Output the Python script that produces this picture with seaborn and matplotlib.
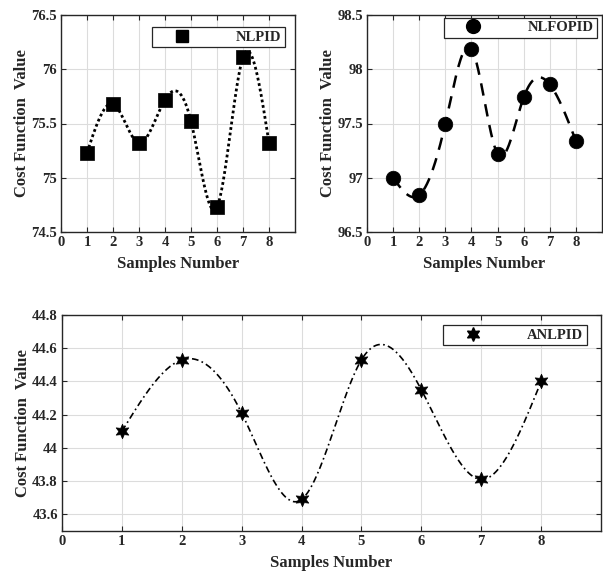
import numpy as np
import pandas as pd
import matplotlib
matplotlib.use("Agg")
import matplotlib.pyplot as plt
from matplotlib.lines import Line2D
import seaborn as sns

# ---------------- data ----------------
samples = [1, 2, 3, 4, 5, 6, 7, 8]
nlpid = [75.23, 75.68, 75.32, 75.72, 75.52, 74.73, 76.11, 75.32]
nlfopid = [97.00, 96.84, 97.50, 98.19, 97.22, 97.74, 97.86, 97.34]
anlpid = [44.10, 44.53, 44.21, 43.69, 44.53, 44.35, 43.81, 44.40]
x_ticks = [0, 1, 2, 3, 4, 5, 6, 7, 8]
y_ticks_nlpid = [74.5, 75, 75.5, 76, 76.5]
y_ticks_nlfopid = [96.5, 97, 97.5, 98, 98.5]
y_ticks_anlpid = [43.6, 43.8, 44.0, 44.2, 44.4, 44.6, 44.8]


def spline(x, y, xs):
    """Natural cubic spline through the data points."""
    x = np.asarray(x, float)
    y = np.asarray(y, float)
    n = len(x)
    h = np.diff(x)
    A = np.zeros((n, n))
    b = np.zeros(n)
    A[0, 0] = 1.0
    A[-1, -1] = 1.0
    for i in range(1, n - 1):
        A[i, i - 1] = h[i - 1]
        A[i, i] = 2 * (h[i - 1] + h[i])
        A[i, i + 1] = h[i]
        b[i] = 6 * ((y[i + 1] - y[i]) / h[i] - (y[i] - y[i - 1]) / h[i - 1])
    M = np.linalg.solve(A, b)
    xs = np.asarray(xs, float)
    idx = np.clip(np.searchsorted(x, xs) - 1, 0, n - 2)
    x0, x1 = x[idx], x[idx + 1]
    hh = x1 - x0
    return (M[idx] * (x1 - xs) ** 3 / (6 * hh) + M[idx + 1] * (xs - x0) ** 3 / (6 * hh)
            + (y[idx] / hh - M[idx] * hh / 6) * (x1 - xs)
            + (y[idx + 1] / hh - M[idx + 1] * hh / 6) * (xs - x0))


sns.set_style("ticks")
plt.rcParams["font.family"] = ["Liberation Serif", "DejaVu Serif"]
plt.rcParams["font.weight"] = "bold"
plt.rcParams["axes.labelweight"] = "bold"

TXT = "#262626"
W, H = 603, 574
fig = plt.figure(figsize=(W / 100, H / 100), dpi=100)


def px_axes(l, r, t, b):
    return fig.add_axes([l / W, (H - b) / H, (r - l) / W, (b - t) / H])


ax1 = px_axes(61, 295, 15, 232)
ax2 = px_axes(367, 602, 15, 232)
ax3 = px_axes(62, 601, 315, 531)

panels = [
    (ax1, nlpid, y_ticks_nlpid, (74.5, 76.5), (0, (1, 1)), 2.0, "s", 90, "NLPID", (0.957, 0.945)),
    (ax2, nlfopid, y_ticks_nlfopid, (96.5, 98.5), (0, (5, 3.5)), 1.8, "o", 110, "NLFOPID", (0.979, 0.988)),
    (ax3, anlpid, y_ticks_anlpid, (43.5, 44.8), (0, (4, 2, 1, 2)), 1.2, (6, 1, 0), 110, "ANLPID", (0.974, 0.954)),
]

for ax, vals, yt, ylim, ls, lw, mk, ms, name, anchor in panels:
    xs = np.linspace(samples[0], samples[-1], 400)
    curve = pd.DataFrame({"x": xs, "y": spline(samples, vals, xs)})
    pts = pd.DataFrame({"x": samples, "y": vals})
    sns.lineplot(data=curve, x="x", y="y", ax=ax, color="black", lw=lw,
                 linestyle=ls, estimator=None, sort=False, zorder=3)
    sns.scatterplot(data=pts, x="x", y="y", ax=ax, color="black", marker=mk,
                    s=ms, edgecolor="black", linewidth=0.5, zorder=4)
    ax.set_xlim(0, 9)
    ax.set_ylim(*ylim)
    ax.set_xticks(x_ticks)
    ax.set_yticks(yt)
    ax.set_xticklabels([str(t) for t in x_ticks])
    ax.set_yticklabels([f"{t:g}" for t in yt])
    ax.grid(True, color="#dcdcdc", lw=0.8, zorder=0)
    ax.set_axisbelow(True)
    for sp in ax.spines.values():
        sp.set_visible(True)
        sp.set_color(TXT)
        sp.set_linewidth(1.0)
    ax.tick_params(direction="in", length=3.5, width=0.8, top=True, right=True,
                   labelsize=10.5, colors=TXT, pad=3)
    for lab in ax.get_xticklabels() + ax.get_yticklabels():
        lab.set_fontweight("bold")
    ax.set_xlabel("Samples Number", fontsize=12, fontweight="bold", color=TXT, labelpad=5)
    ax.set_ylabel("Cost Function  Value", fontsize=12, fontweight="bold", color=TXT, labelpad=1)
    h = Line2D([], [], color="black", marker=mk, linestyle="none",
               markersize=np.sqrt(ms) * 0.95)
    leg = ax.legend([h], [name], loc="upper right", bbox_to_anchor=anchor,
                    borderaxespad=0, frameon=True, fancybox=False,
                    handlelength=3.6, handletextpad=1.9, borderpad=0.25,
                    prop={"family": "Liberation Serif", "weight": "bold", "size": 10.5})
    leg.get_frame().set_edgecolor(TXT)
    leg.get_frame().set_linewidth(0.9)
    leg.get_frame().set_alpha(1)
    for t in leg.get_texts():
        t.set_color(TXT)

fig.savefig("out.png", dpi=100)
